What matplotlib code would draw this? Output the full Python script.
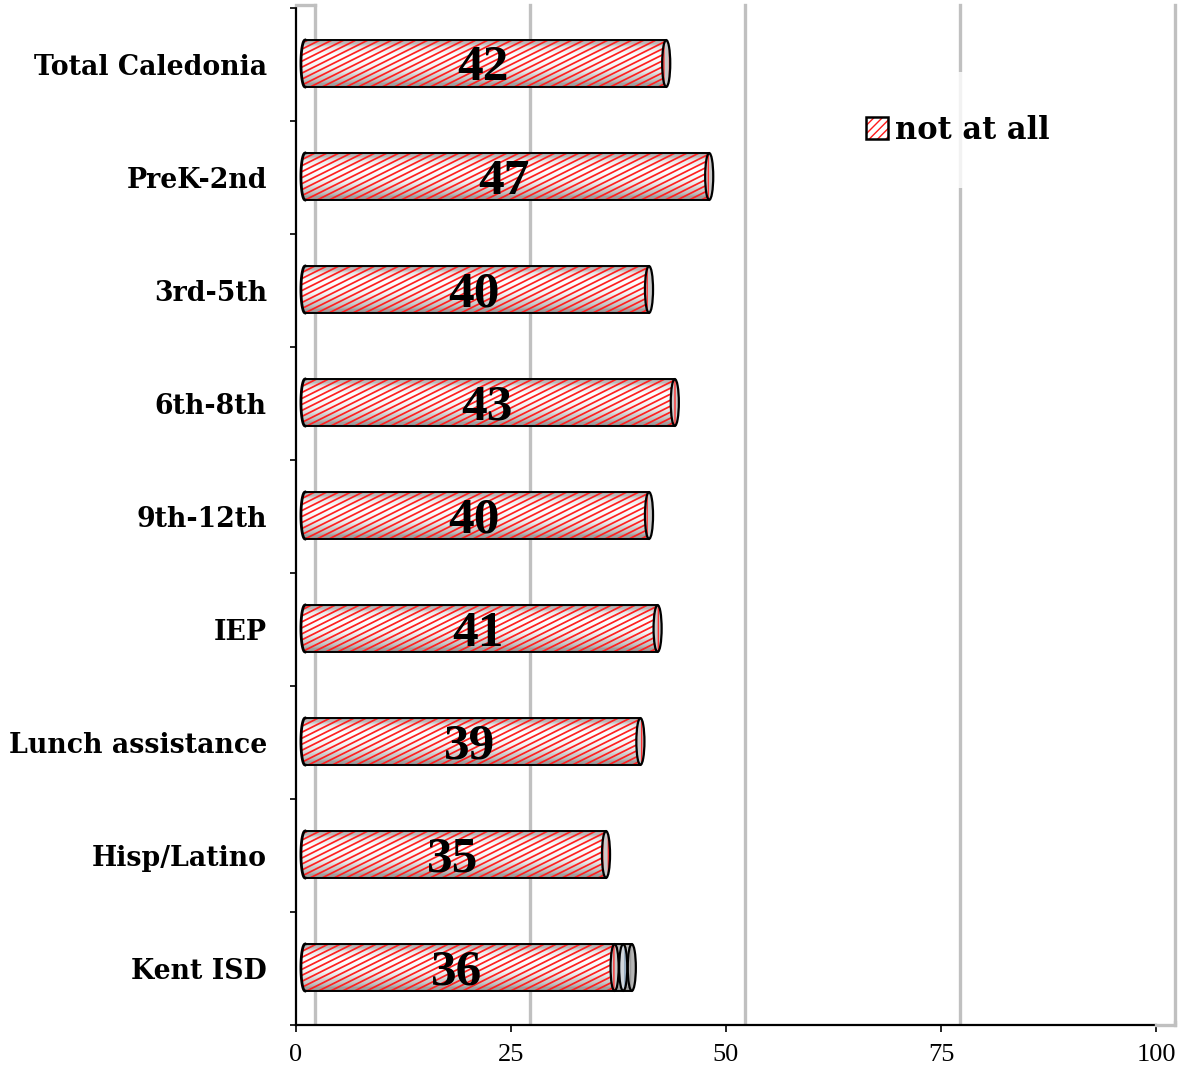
import numpy as np
import matplotlib
matplotlib.use("Agg")
import matplotlib.pyplot as plt
from matplotlib.patches import Ellipse, PathPatch, Patch
from matplotlib.path import Path
from matplotlib.collections import LineCollection, PolyCollection
from matplotlib.lines import Line2D
from matplotlib.transforms import ScaledTranslation, IdentityTransform
from matplotlib.legend_handler import HandlerTuple

# ---------------- data ----------------
categories = ["Kent ISD", "Hisp/Latino", "Lunch assistance", "IEP", "9th-12th",
              "6th-8th", "3rd-5th", "PreK-2nd", "Total Caledonia"]
not_at_all = [36, 35, 39, 41, 40, 43, 40, 47, 42]
extra_a = [1, 0, 0, 0, 0, 0, 0, 0, 0]
extra_b = [1, 0, 0, 0, 0, 0, 0, 0, 0]
x_ticks = [0, 25, 50, 75, 100]
legend_label = "not at all"

# ---------------- figure ----------------
W, H, DPI = 1184, 1070, 100
fig = plt.figure(figsize=(W / DPI, H / DPI), dpi=DPI)
ax_l, ax_r, ax_t, ax_b = 296, 1156, 8, 1025
ax = fig.add_axes([ax_l / W, 1 - ax_b / H, (ax_r - ax_l) / W, (ax_b - ax_t) / H])
n = len(categories)
ax.set_xlim(0, 100)
ax.set_ylim(-0.5, n - 0.5)

for s in ["top", "right"]:
    ax.spines[s].set_visible(False)
for s in ["left", "bottom"]:
    ax.spines[s].set_linewidth(1.6)
    ax.spines[s].set_color("black")

# back-wall gridlines (3D offset)
dx_px, dy_px = 19, 3
grid_tr = ax.get_xaxis_transform() + ScaledTranslation(dx_px / DPI, dy_px / DPI, fig.dpi_scale_trans)
for xv in x_ticks:
    ax.plot([xv, xv], [0, 1], color="#c0c0c0", lw=2.4, transform=grid_tr, clip_on=False, zorder=0.5)
fig.add_artist(Line2D([ax_l / W, (ax_l + dx_px) / W], [1 - (ax_t - dy_px) / H] * 2,
                      color="#c0c0c0", lw=2.4, transform=fig.transFigure, zorder=0.5))
fig.add_artist(Line2D([ax_r / W, (ax_r + dx_px) / W], [1 - ax_b / H] * 2,
                      color="#c0c0c0", lw=2.4, transform=fig.transFigure, zorder=0.5))
fig.add_artist(Line2D([(ax_r + dx_px) / W] * 2, [1 - ax_b / H, 1 - (ax_b - dy_px) / H],
                      color="#c0c0c0", lw=2.4, transform=fig.transFigure, zorder=0.5))

# ticks
ax.set_xticks(x_ticks)
ax.set_xticklabels([str(v) for v in x_ticks], fontfamily="Liberation Serif", fontsize=19)
ax.tick_params(axis="x", direction="out", length=5, width=1.2, pad=9)
ax.set_yticks(range(n))
ax.set_yticklabels(categories, fontfamily="DejaVu Serif", fontweight="bold", fontsize=19.3)
ax.tick_params(axis="y", which="major", length=0, pad=21)
ax.set_yticks(np.arange(-0.5, n, 1), minor=True)
ax.tick_params(axis="y", which="minor", direction="out", length=4.5, width=1.2)

# ---------------- cylinder bars ----------------
bar_h = 0.415
rx = 0.47
bar_tr = ax.transData + ScaledTranslation(9 / DPI, 1 / DPI, fig.dpi_scale_trans)

prof_t = [0.0, 0.12, 0.4, 0.68, 0.85, 1.0]
prof_v = [0.52, 0.72, 0.95, 1.0, 0.9, 0.60]
N_BANDS = 40


def shade(clip_patch, x0, x1, yc):
    bot = yc - bar_h / 2
    dh = bar_h / N_BANDS
    polys, cols = [], []
    for j in range(N_BANDS):
        y0 = bot + j * dh
        g = np.interp((j + 0.5) / N_BANDS, prof_t, prof_v)
        polys.append([(x0 - rx, y0), (x1, y0), (x1, y0 + dh * 1.05), (x0 - rx, y0 + dh * 1.05)])
        cols.append((g, g, g))
    pc = PolyCollection(polys, facecolors=cols, edgecolors="none", transform=bar_tr, zorder=2)
    ax.add_collection(pc, autolim=False)
    pc.set_clip_path(clip_patch)


def stripes(clip_patch, x0, x1, yc, color, lw=1.25, spacing=6.0, slope=0.5):
    (px0, py0) = bar_tr.transform((x0 - rx, yc - bar_h / 2))
    (px1, py1) = bar_tr.transform((x1 + rx, yc + bar_h / 2))
    segs = []
    span = (px1 - px0) * slope
    k = -span
    while k < (py1 - py0) + spacing:
        segs.append([(px0, py0 + k), (px1, py0 + k + span)])
        k += spacing
    lc = LineCollection(segs, colors=color, linewidths=lw,
                        transform=IdentityTransform(), zorder=3)
    ax.add_collection(lc, autolim=False)
    lc.set_clip_path(clip_patch)


def body(x0, x1, yc, stripe_color, rounded_left, hatch_color=None):
    top, bot = yc + bar_h / 2, yc - bar_h / 2
    verts = [(x0, top), (x1, top), (x1, bot), (x0, bot)]
    if rounded_left:
        th = np.linspace(-0.5 * np.pi, -1.5 * np.pi, 30)
        verts += [(x0 + rx * np.cos(t), yc + bar_h / 2 * np.sin(t)) for t in th]
    verts.append(verts[0])
    codes = [Path.MOVETO] + [Path.LINETO] * (len(verts) - 2) + [Path.CLOSEPOLY]
    p = PathPatch(Path(verts, codes), facecolor="none", edgecolor="none", transform=bar_tr, zorder=1.9)
    ax.add_patch(p)
    shade(p, x0, x1, yc)
    if stripe_color is not None:
        stripes(p, x0, x1, yc, stripe_color)
    if hatch_color is not None:
        hp = PathPatch(Path(verts, codes), facecolor="none", edgecolor=hatch_color, lw=0,
                       hatch="|", transform=bar_tr, zorder=3)
        ax.add_patch(hp)
    ax.plot([x0, x1], [top, top], color="black", lw=1.4, transform=bar_tr, zorder=4, solid_capstyle="butt")
    ax.plot([x0, x1], [bot, bot], color="black", lw=1.4, transform=bar_tr, zorder=4, solid_capstyle="butt")
    if rounded_left:
        th = np.linspace(0.5 * np.pi, 1.5 * np.pi, 40)
        ax.plot(x0 + rx * np.cos(th), yc + bar_h / 2 * np.sin(th), color="black", lw=2.0,
                transform=bar_tr, zorder=4)


def cap(xe, yc, fill, hatch_color):
    e = Ellipse((xe, yc), 2 * rx, bar_h, facecolor=fill, edgecolor=hatch_color, lw=0,
                hatch="|||", transform=bar_tr, zorder=5)
    ax.add_patch(e)
    e2 = Ellipse((xe, yc), 2 * rx, bar_h, facecolor="none", edgecolor="black", lw=1.6,
                 transform=bar_tr, zorder=6)
    ax.add_patch(e2)


for i in range(n):
    v = not_at_all[i]
    body(0, v, i, "#ff2020", True)
    cap(v, i, "#c9c9c9", "#ff3030")
    start = v
    if extra_a[i] > 0:
        body(start, start + extra_a[i], i, None, False, hatch_color="#1f4e79")
        start += extra_a[i]
        cap(start, i, "#d0d6dc", "#7f9ab5")
    if extra_b[i] > 0:
        body(start, start + extra_b[i], i, None, False, hatch_color="#e08a2e")
        start += extra_b[i]
        cap(start, i, "#b5b5b5", "#9a9a9a")

ax.set_xlim(0, 100)
ax.set_ylim(-0.5, n - 0.5)

# data labels
lab_tr = ax.transData + ScaledTranslation(6 / DPI, -16 / DPI, fig.dpi_scale_trans)
for i in range(n):
    ax.text(not_at_all[i] / 2, i, str(not_at_all[i]), transform=lab_tr, ha="center", va="baseline",
            fontfamily="Liberation Serif", fontweight="bold", fontsize=37, color="black", zorder=10)

# legend
h1 = Patch(facecolor="white", edgecolor="#ff1a1a", hatch="////", lw=0)
h2 = Patch(facecolor="none", edgecolor="black", lw=1.8)
leg = ax.legend([(h1, h2)], [legend_label], handler_map={tuple: HandlerTuple(ndivide=1)},
                loc="center", bbox_to_anchor=(0.770, 0.880), frameon=True, fancybox=False,
                prop={"family": "DejaVu Serif", "weight": "bold", "size": 22},
                handlelength=0.7, handleheight=0.7, handletextpad=0.25, borderpad=1.4)
leg.get_frame().set_facecolor("white")
leg.get_frame().set_edgecolor("none")
leg.set_zorder(20)

fig.savefig("out.png", dpi=DPI)
